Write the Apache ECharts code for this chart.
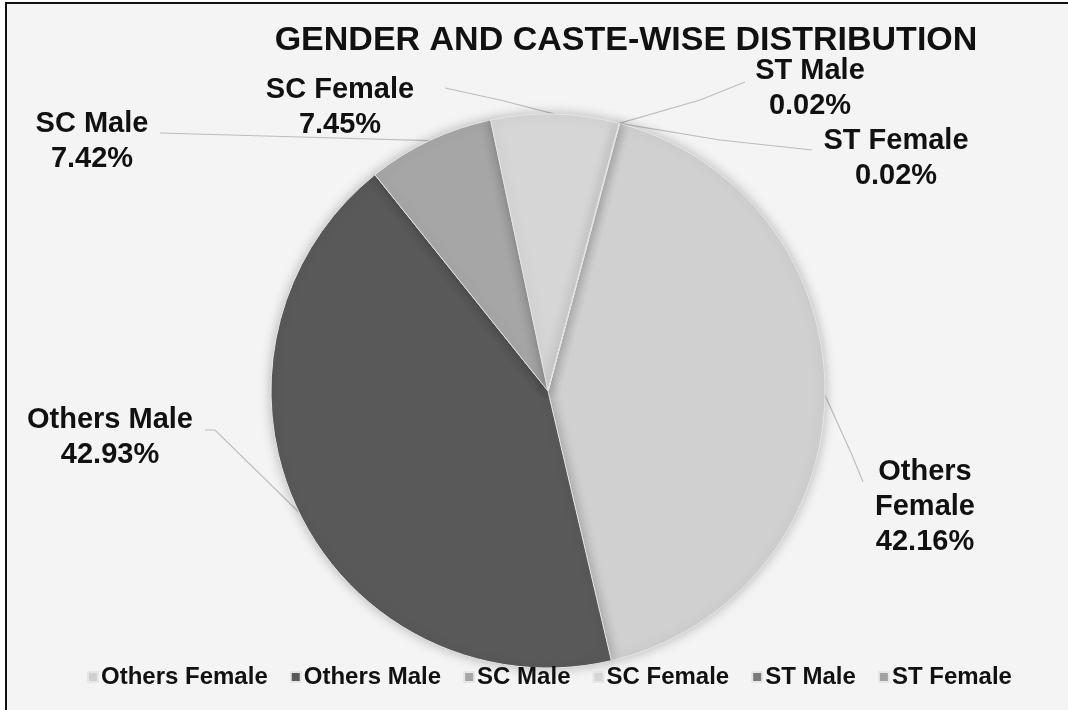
<!DOCTYPE html>
<html>
<head>
<meta charset="utf-8">
<script src="https://cdn.jsdelivr.net/npm/echarts@6/dist/echarts.min.js"></script>
<style>
html,body{margin:0;padding:0;background:#ffffff;}
#chart{width:1068px;height:710px;}
</style>
</head>
<body>
<div id="chart"></div>
<script>
const categories = ['Others Female', 'Others Male', 'SC Male', 'SC Female', 'ST Male', 'ST Female'];
const labelNames = ['Others\nFemale', 'Others Male', 'SC Male', 'SC Female', 'ST Male', 'ST Female'];
const values = [42.16, 42.93, 7.42, 7.45, 0.02, 0.02];
const colors = ['#d0d0d0', '#595959', '#a6a6a6', '#d6d6d6', '#7b7b7b', '#a2a2a2'];

// label placement (layout only)
const labelX = [925, 110, 92, 340, 810, 896];
const labelY = [507, 437, 141, 107, 88, 158];
const lineMid = [[852, 455], [215, 430], [300, 137], [500, 100], [700, 100], [720, 140]];
const lineEnd = [[863, 482], [205, 430], [160, 133], [445, 88], [745, 82], [812, 150]];

const chart = echarts.init(document.getElementById('chart'));
const option = {
  backgroundColor: '#ffffff',
  animation: false,
  graphic: [{
    type: 'rect', z: -10,
    shape: {x: 6, y: 3, width: 1080, height: 730},
    style: {fill: '#f4f4f4', stroke: '#111', lineWidth: 2}
  }],
  title: {
    text: 'GENDER AND CASTE-WISE DISTRIBUTION',
    left: 621, top: 19, textAlign: 'center',
    textStyle: {fontFamily: '"Liberation Sans", Arial, sans-serif', fontWeight: 'bold', fontSize: 34, color: '#111'}
  },
  legend: {
    bottom: 16, left: 82,
    icon: 'rect', itemWidth: 10, itemHeight: 10, itemGap: 22,
    data: categories,
    textStyle: {fontFamily: '"Liberation Sans", Arial, sans-serif', fontWeight: 'bold', fontSize: 24, color: '#111', padding: [0, 0, 0, -2]}
  },
  series: [{
    type: 'pie',
    center: [548, 391],
    radius: 277,
    startAngle: 75,
    clockwise: true,
    avoidLabelOverlap: false,
    itemStyle: {borderColor: '#e6e6e6', borderWidth: 1, shadowBlur: 12, shadowColor: 'rgba(0,0,0,0.25)'},
    label: {
      show: true,
      formatter: function (p) { return labelNames[p.dataIndex] + '\n' + values[p.dataIndex].toFixed(2) + '%'; },
      fontFamily: '"Liberation Sans", Arial, sans-serif',
      fontWeight: 'bold', fontSize: 29, lineHeight: 35, color: '#111', align: 'center'
    },
    labelLine: {show: true, lineStyle: {color: '#bdbdbd', width: 1.2}},
    labelLayout: function (params) {
      const i = params.dataIndex;
      const start = params.labelLinePoints ? params.labelLinePoints[0] : lineMid[i];
      return {
        x: labelX[i], y: labelY[i], align: 'center', verticalAlign: 'middle',
        labelLinePoints: [start, lineMid[i], lineEnd[i]]
      };
    },
    data: categories.map(function (c, i) { return {name: c, value: values[i], itemStyle: {color: colors[i]}}; })
  }]
};
chart.setOption(option);
</script>
</body>
</html>
